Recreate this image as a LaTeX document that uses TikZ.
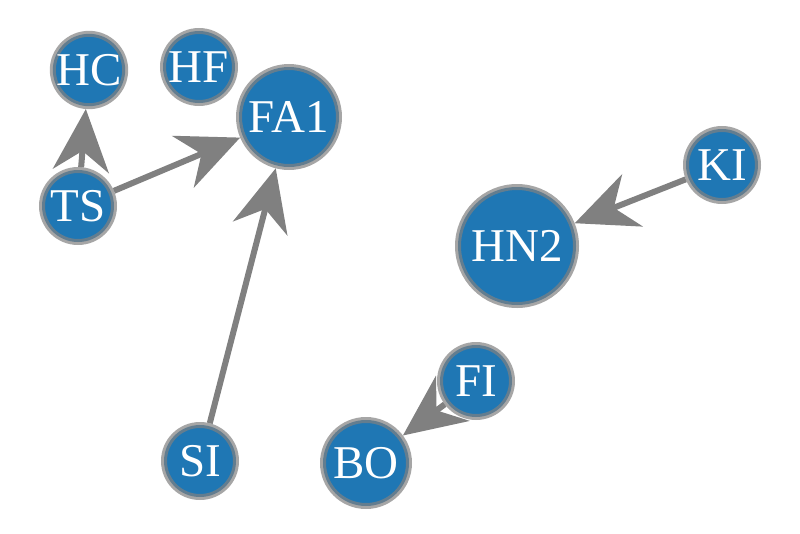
\documentclass[tikz,border=0pt]{standalone}
\usepackage{fontspec}
\setmainfont{Liberation Serif}
\usepackage{tikz}
\usetikzlibrary{arrows.meta,backgrounds}
\definecolor{nodeblue}{RGB}{31,119,180}
\definecolor{ringgray}{RGB}{128,128,128}
\definecolor{edgegray}{RGB}{128,128,128}

\begin{document}
\begin{tikzpicture}[
  x=1pt, y=-1pt,
  font=\fontsize{47}{47}\selectfont,
  nd/.style={circle, fill=nodeblue, draw=ringgray, draw opacity=0.7,
             line width=6pt, text=white, inner sep=0pt, minimum size=72pt},
  big/.style={nd, minimum size=100pt},
  huge/.style={nd, minimum size=118pt},
  mid/.style={nd, minimum size=86pt},
  ed/.style={-{Stealth[length=62pt, width=56pt, inset=20pt]}, draw=edgegray,
             line width=6pt},
]
\useasboundingbox (0,0) rectangle (800,533);

\node[nd]   (hc)  at (89,70)   {HC};
\node[nd]   (hf)  at (199,67)  {HF};
\node[big]  (fa1) at (289,117) {FA1};
\node[nd]   (ts)  at (78,206)  {TS};
\node[nd]   (ki)  at (722,165) {KI};
\node[huge] (hn2) at (517,246) {HN2};
\node[nd]   (fi)  at (476,381) {FI};
\node[nd]   (si)  at (200,461) {SI};
\node[mid]  (bo)  at (366,463) {BO};

\begin{scope}[on background layer]
\foreach \a/\b in {ts/hc, ts/fa1, si/fa1, ki/hn2, fi/bo}
  \draw[ed] (\a) -- (\b);
\end{scope}

\end{tikzpicture}
\end{document}
